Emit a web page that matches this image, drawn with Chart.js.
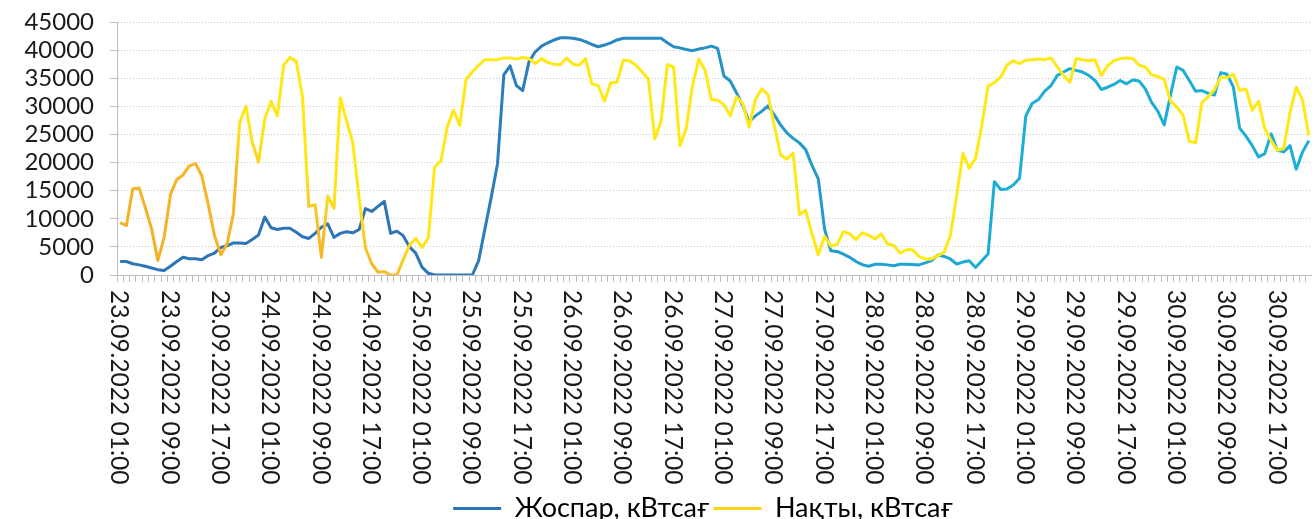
<!DOCTYPE html>
<html>
<head>
<meta charset="utf-8">
<title>Жоспар / Нақты</title>
<script src="https://cdn.jsdelivr.net/npm/chart.js@4.4.1/dist/chart.umd.min.js"></script>
<style>
  html, body { margin: 0; padding: 0; background: #fff; overflow: hidden; }
  #wrap { width: 1312px; height: 532px; }
</style>
</head>
<body>
<div id="wrap"><canvas id="chart" width="1312" height="532"></canvas></div>
<script>
// hourly values, 23.09.2022 01:00 onwards
var planLabel = 'Жоспар, кВтсағ';
var actualLabel = 'Нақты, кВтсағ';

var planValues = [
  2400, 2400, 2000, 1800, 1550, 1250, 950, 800, 1550, 2400,
  3150, 2900, 2900, 2700, 3450, 3900, 4900, 5200, 5700, 5700,
  5600, 6300, 7100, 10300, 8400, 8100, 8300, 8300, 7600, 6800,
  6500, 7400, 8500, 9100, 6700, 7400, 7700, 7500, 8100, 11800,
  11300, 12200, 13100, 7400, 7800, 7000, 5000, 3900, 1400, 300,
  0, 0, 0, 0, 0, 0, 0, 2550, 8200, 13800,
  19800, 35600, 37200, 33700, 32800, 37900, 39700, 40700, 41300, 41800,
  42200, 42200, 42100, 41900, 41500, 41000, 40600, 40900, 41300, 41800,
  42100, 42100, 42100, 42100, 42100, 42100, 42100, 41300, 40600, 40400,
  40100, 39900, 40200, 40400, 40700, 40300, 35400, 34500, 32400, 30100,
  27300, 28300, 29100, 30100, 28500, 26700, 25300, 24300, 23500, 22300,
  19500, 17100, 8200, 4300, 4200, 3700, 3150, 2400, 1850, 1550,
  1900, 1900, 1800, 1650, 1900, 1900, 1850, 1800, 2150, 2550,
  3550, 3300, 2850, 1950, 2300, 2550, 1350, 2550, 3750, 16600,
  15200, 15300, 16000, 17200, 28300, 30500, 31200, 32700, 33700, 35500,
  36100, 36700, 36400, 36100, 35500, 34600, 33000, 33400, 33900, 34600,
  34000, 34700, 34500, 33100, 30700, 29100, 26700, 32000, 37000, 36400,
  34600, 32700, 32800, 32300, 32000, 36000, 35700, 33400, 26100, 24700,
  23000, 21000, 21600, 25100, 22200, 21900, 23000, 18800, 21900, 23900
];

var actualValues = [
  9300, 8800, 15300, 15500, 12000, 8200, 2600, 6700, 14300, 17000,
  17800, 19400, 19800, 17600, 12600, 7000, 3600, 5500, 10900, 27100,
  30000, 23600, 20100, 27800, 30900, 28300, 37300, 38700, 38000, 31600,
  12200, 12500, 3150, 14000, 11900, 31500, 27400, 23500, 13700, 4800,
  2000, 500, 600, 0, 0, 2700, 5300, 6500, 4900, 6600,
  19200, 20300, 26300, 29300, 26600, 34800, 36100, 37300, 38300, 38300,
  38300, 38600, 38600, 38400, 38700, 38500, 37600, 38500, 37800, 37500,
  37400, 38600, 37500, 37300, 38500, 34000, 33700, 30900, 34200, 34300,
  38200, 38100, 37300, 36100, 34800, 24200, 27300, 37400, 37000, 23000,
  26000, 33700, 38400, 36400, 31200, 31100, 30300, 28300, 31700, 30500,
  26300, 31200, 33100, 32100, 26600, 21400, 20600, 21700, 10700, 11500,
  7300, 3600, 6900, 5100, 5500, 7700, 7300, 6300, 7500, 7100,
  6400, 7300, 5500, 5300, 3900, 4500, 4500, 3300, 2850, 2850,
  3450, 4000, 7000, 14100, 21600, 19000, 20700, 26600, 33600, 34200,
  35200, 37300, 38100, 37600, 38200, 38300, 38400, 38300, 38600, 37000,
  35500, 34300, 38500, 38300, 38100, 38300, 35500, 37200, 38100, 38500,
  38600, 38500, 37300, 37000, 35600, 35300, 34800, 30900, 29900, 28400,
  23800, 23500, 30700, 31700, 33000, 35200, 35100, 35700, 32800, 33100,
  29300, 30900, 26000, 23900, 22200, 22500, 28900, 33400, 31100, 24800
];

// one category per hour, a label shown every 8 hours
var labelEvery = 8;
var yTickValues = [0, 5000, 10000, 15000, 20000, 25000, 30000, 35000, 40000, 45000];

function pad2(n) { return (n < 10 ? '0' : '') + n; }

var hourLabels = [];
for (var i = 0; i < planValues.length; i++) {
  var h = 1 + i;
  var day = 23 + Math.floor(h / 24);
  hourLabels.push(pad2(day) + '.09.2022 ' + pad2(h % 24) + ':00');
}

var FONT = "Lato, 'Noto Sans', sans-serif";
var TEXT = '#1a1a1a';

function blueStroke(ctx) {
  var a = ctx.chart.chartArea;
  if (!a) return '#2e75b6';
  var g = ctx.chart.ctx.createLinearGradient(a.left, 0, a.right, 0);
  g.addColorStop(0, '#2e75b6');
  g.addColorStop(0.25, '#2e75b6');
  g.addColorStop(0.75, '#1caed6');
  g.addColorStop(1, '#1caed6');
  return g;
}

function yellowStroke(ctx) {
  var a = ctx.chart.chartArea;
  if (!a) return '#ffe815';
  // orange near the lower left corner, yellow everywhere else
  var g = ctx.chart.ctx.createLinearGradient(a.left, a.bottom, a.left + 123, a.bottom - 185);
  g.addColorStop(0, '#f3ad28');
  g.addColorStop(0.66, '#f6b826');
  g.addColorStop(0.86, '#fde419');
  g.addColorStop(1, '#ffe815');
  return g;
}

// x labels read top to bottom, so they are drawn here at the scale's tick pixels
var xLabelPlugin = {
  id: 'xLabels',
  afterLayout: function (chart) {
    // the source legend sits a little right of centre
    chart.legend.left += 47;
    chart.legend.right += 47;
  },
  afterDraw: function (chart) {
    var sc = chart.scales.x;
    var c = chart.ctx;
    c.save();
    c.font = '24.5px ' + FONT;
    c.fillStyle = TEXT;
    c.textAlign = 'left';
    c.textBaseline = 'middle';
    for (var i = 0; i < hourLabels.length; i += labelEvery) {
      c.save();
      c.translate(sc.getPixelForTick(i) - 1, sc.top + 15);
      c.rotate(Math.PI / 2);
      c.fillText(hourLabels[i], 0, 0);
      c.restore();
    }
    c.restore();
  }
};

Chart.defaults.font.family = FONT;

new Chart(document.getElementById('chart'), {
  type: 'line',
  data: {
    labels: hourLabels,
    datasets: [
      {
        label: planLabel,
        data: planValues,
        borderColor: blueStroke,
        backgroundColor: '#2e75b6',
        borderWidth: 3,
        borderJoinStyle: 'round',
        pointRadius: 0,
        tension: 0,
        order: 1
      },
      {
        label: actualLabel,
        data: actualValues,
        borderColor: yellowStroke,
        backgroundColor: '#fcd21a',
        borderWidth: 3,
        borderJoinStyle: 'round',
        pointRadius: 0,
        tension: 0,
        order: 0
      }
    ]
  },
  options: {
    responsive: false,
    animation: false,
    layout: { padding: { top: 22, right: 0, left: 0, bottom: 0 } },
    scales: {
      x: {
        type: 'category',
        offset: true,
        border: { display: true, color: '#bfbfbf', width: 1 },
        grid: { display: true, drawOnChartArea: false, drawTicks: true, tickLength: 7, color: '#bfbfbf', offset: true },
        ticks: { display: false, autoSkip: false },
        afterFit: function (s) { s.height = 216; }
      },
      y: {
        min: yTickValues[0],
        max: yTickValues[yTickValues.length - 1],
        border: { display: true, color: '#bfbfbf', width: 1, dash: [1, 2] },
        grid: { color: '#c8c8c8', tickColor: '#bfbfbf', tickLength: 7, drawTicks: true },
        ticks: {
          autoSkip: false,
          padding: 16,
          color: TEXT,
          // small line height keeps the top label from pushing the plot down
          font: { size: 24, lineHeight: 0.5 },
          callback: function (v) { return String(v); }
        },
        afterBuildTicks: function (s) {
          s.ticks = yTickValues.map(function (v) { return { value: v }; });
        },
        afterFit: function (s) { s.width = 117; }
      }
    },
    plugins: {
      legend: {
        position: 'bottom',
        labels: {
          boxWidth: 48,
          boxHeight: 3,
          padding: 4,
          color: TEXT,
          font: { size: 27, lineHeight: 1 },
          generateLabels: function (chart) {
            var ds = chart.data.datasets;
            return [0, 1].map(function (k) {
              return {
                text: ds[k].label,
                fillStyle: ds[k].backgroundColor,
                strokeStyle: ds[k].backgroundColor,
                lineWidth: 0,
                hidden: false,
                datasetIndex: k
              };
            });
          }
        }
      },
      tooltip: { enabled: false }
    }
  },
  plugins: [xLabelPlugin]
});
</script>
</body>
</html>
